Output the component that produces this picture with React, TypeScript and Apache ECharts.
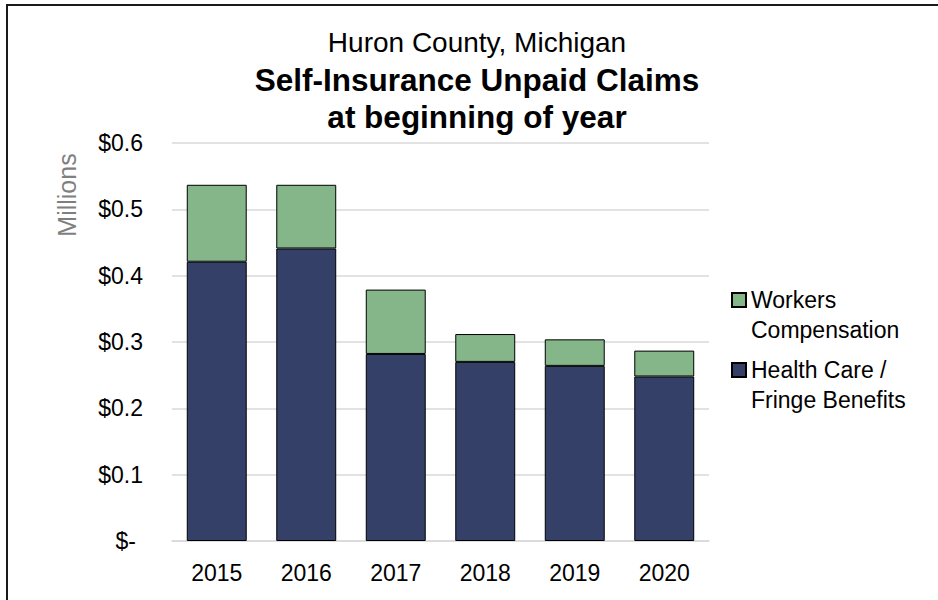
import React, { useEffect, useRef } from "react";
import * as echarts from "echarts";

const categories = ["2015", "2016", "2017", "2018", "2019", "2020"];
const healthCare = [0.421, 0.441, 0.282, 0.270, 0.264, 0.248];
const workersComp = [0.116, 0.096, 0.097, 0.042, 0.040, 0.039];
const yTicks = [0, 0.1, 0.2, 0.3, 0.4, 0.5, 0.6];

const FONT = "Liberation Sans, Arial, sans-serif";

export default function App() {
  const ref = useRef<HTMLDivElement>(null);
  useEffect(() => {
    if (!ref.current) return;
    const chart = echarts.init(ref.current, undefined, { renderer: "svg" });
    const legendCommon = {
      orient: "vertical",
      left: 731,
      padding: 0,
      itemWidth: 14,
      itemHeight: 14,
      icon: "rect",
      selectedMode: false,
      textStyle: {
        fontFamily: FONT,
        fontSize: 23,
        color: "#000",
        lineHeight: 30,
      },
    };
    chart.setOption({
      animation: false,
      backgroundColor: "#fff",
      textStyle: { fontFamily: FONT },
      title: [
        {
          text: "Huron County, Michigan",
          left: 477,
          top: 42 - 17,
          textAlign: "center",
          padding: 0,
          textStyle: { fontFamily: FONT, fontSize: 28, fontWeight: "normal", color: "#000", lineHeight: 34 },
        },
        {
          text: "Self-Insurance Unpaid Claims",
          left: 477,
          top: 80 - 17,
          textAlign: "center",
          padding: 0,
          textStyle: { fontFamily: FONT, fontSize: 31.5, fontWeight: "bold", color: "#000", lineHeight: 34 },
        },
        {
          text: "at beginning of year",
          left: 477,
          top: 117 - 17,
          textAlign: "center",
          padding: 0,
          textStyle: { fontFamily: FONT, fontSize: 31.5, fontWeight: "bold", color: "#000", lineHeight: 34 },
        },
      ],
      legend: [
        {
          ...legendCommon,
          top: 300 - 45,
          data: ["Workers Compensation"],
          formatter: () => "\nWorkers\nCompensation",
        },
        {
          ...legendCommon,
          top: 370 - 45,
          data: ["Health Care / Fringe Benefits"],
          formatter: () => "\nHealth Care /\nFringe Benefits",
        },
      ],
      grid: { left: 172, right: 229, top: 143, bottom: 59, containLabel: false },
      xAxis: {
        type: "category",
        data: categories,
        axisLine: { show: true, lineStyle: { color: "#d9d9d9", width: 1.5 } },
        axisTick: { show: false },
        axisLabel: {
          fontFamily: FONT,
          fontSize: 23,
          color: "#000",
          margin: 20,
          lineHeight: 23,
        },
      },
      yAxis: {
        type: "value",
        min: 0,
        max: 0.6,
        interval: 0.1,
        axisLine: { show: false },
        axisTick: { show: false },
        splitLine: { lineStyle: { color: "#d9d9d9", width: 1.5 } },
        axisLabel: {
          fontFamily: FONT,
          fontSize: 23,
          color: "#000",
          margin: 29,
          formatter: (v: number) => {
            const t = yTicks.find((x) => Math.abs(x - v) < 1e-9);
            const val = t === undefined ? v : t;
            return val === 0 ? "{z|$-}" : "$" + val.toFixed(1);
          },
          rich: {
            z: { fontFamily: FONT, fontSize: 23, color: "#000", padding: [0, 7, 0, 0] },
          },
        },
      },
      graphic: [
        {
          type: "line",
          shape: { x1: 7, y1: 5, x2: 938, y2: 5 },
          style: { stroke: "#1a1a1a", lineWidth: 2 },
        },
        {
          type: "line",
          shape: { x1: 7, y1: 4, x2: 7, y2: 600 },
          style: { stroke: "#1a1a1a", lineWidth: 2 },
        },
        {
          type: "text",
          x: 67,
          y: 195,
          rotation: Math.PI / 2,
          style: {
            text: "Millions",
            fontFamily: FONT,
            fontSize: 25,
            fill: "#7f7f7f",
            align: "center",
            verticalAlign: "middle",
          },
        },
      ],
      series: [
        {
          name: "Health Care / Fringe Benefits",
          type: "bar",
          stack: "total",
          data: healthCare,
          barCategoryGap: "33%",
          itemStyle: { color: "#344068", borderColor: "#000", borderWidth: 1 },
        },
        {
          name: "Workers Compensation",
          type: "bar",
          stack: "total",
          data: workersComp,
          barCategoryGap: "33%",
          itemStyle: { color: "#84b68a", borderColor: "#000", borderWidth: 1 },
        },
      ],
    });
    return () => chart.dispose();
  }, []);
  return (
    <div
      ref={ref}
      style={{ position: "fixed", left: 0, top: 0, width: 938, height: 600 }}
    />
  );
}
